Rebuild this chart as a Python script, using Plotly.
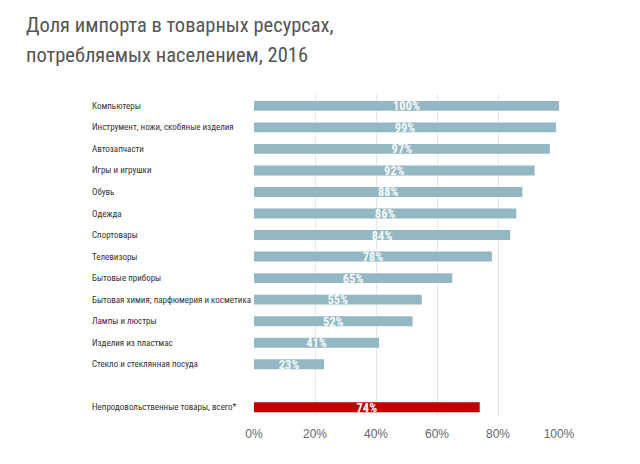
import plotly.graph_objects as go

categories = [
    "Компьютеры",
    "Инструмент, ножи, скобяные изделия",
    "Автозапчасти",
    "Игры и игрушки",
    "Обувь",
    "Одежда",
    "Спортовары",
    "Телевизоры",
    "Бытовые приборы",
    "Бытовая химия; парфюмерия и косметика",
    "Лампы и люстры",
    "Изделия из пластмас",
    "Стекло и стеклянная посуда",
]
values = [100, 99, 97, 92, 88, 86, 84, 78, 65, 55, 52, 41, 23]
total_label = "Непродовольственные товары, всего*"
total_value = 74
x_ticks = [0, 20, 40, 60, 80, 100]
x_ticklabels = ["0%", "20%", "40%", "60%", "80%", "100%"]
title_lines = ["Доля импорта в товарных ресурсах,", "потребляемых населением, 2016"]

positions = list(range(len(categories)))
total_pos = len(categories) + 1

BLUE = "#93b8c4"
RED = "#c00000"
COND = "Roboto Condensed, Liberation Sans Narrow, Arial Narrow, sans-serif"

fig = go.Figure()
fig.add_trace(go.Bar(
    x=values, y=positions, orientation="h",
    marker=dict(color=BLUE, line=dict(width=0)), width=0.46,
    text=[f"{v}%" for v in values], textposition="inside",
    insidetextanchor="middle", constraintext="none",
    textfont=dict(family=COND, size=12.5, color="#f4f9fb", weight="bold"),
    hoverinfo="skip",
))
fig.add_trace(go.Bar(
    x=[total_value], y=[total_pos], orientation="h",
    marker=dict(color=RED, line=dict(width=0)), width=0.46,
    text=[f"{total_value}%"], textposition="inside",
    insidetextanchor="middle", constraintext="none",
    textfont=dict(family=COND, size=12.5, color="#ffffff", weight="bold"),
    hoverinfo="skip",
))

plot_left, plot_right = 254, 559
plot_top, plot_bottom = 94, 417
pw = plot_right - plot_left
ph = plot_bottom - plot_top
label_x = (90 - plot_left) / pw
for lab, pos in zip(categories + [total_label], positions + [total_pos]):
    fig.add_annotation(
        x=label_x, xref="paper", y=pos, yref="y", text=lab,
        showarrow=False, xanchor="left", yanchor="middle",
        font=dict(family=COND, size=9, color="#333333"),
    )

for i, line in enumerate(title_lines):
    cy = 25 + 30 * i
    fig.add_annotation(
        x=(24 - plot_left) / pw, xref="paper",
        y=1 + (plot_top - cy) / ph, yref="paper",
        text=line, showarrow=False, xanchor="left", yanchor="middle",
        font=dict(family=COND, size=20.5, color="#555555"),
    )

fig.update_layout(
    width=640, height=464,
    margin=dict(l=plot_left, r=640 - plot_right, t=plot_top, b=464 - plot_bottom, pad=0),
    paper_bgcolor="white", plot_bgcolor="white",
    showlegend=False, barmode="overlay",
    xaxis=dict(
        range=[0, 100], tickvals=x_ticks, ticktext=x_ticklabels,
        showgrid=True, gridcolor="#e8e8e8", gridwidth=1,
        zeroline=False, showline=False, ticks="", ticklabelstandoff=8,
        tickfont=dict(family="Liberation Sans, Arial, sans-serif", size=12, color="#666666"),
        fixedrange=True,
    ),
    yaxis=dict(
        range=[total_pos + 0.45, -0.55], showticklabels=False,
        showgrid=False, zeroline=False, showline=False, ticks="",
        fixedrange=True,
    ),
)

fig.write_html("out.html", config={"displayModeBar": False},
               post_script="document.body.style.margin='0';")
